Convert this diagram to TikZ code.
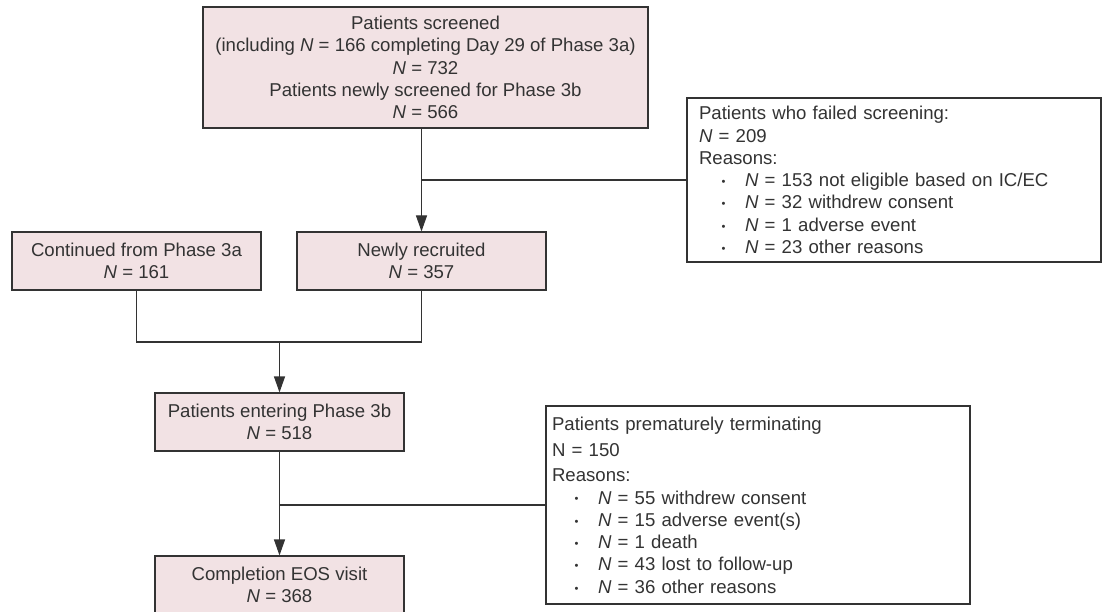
\documentclass[tikz,border=0pt]{standalone}
\usepackage{fontspec}
\setmainfont{Liberation Sans}
\usetikzlibrary{arrows.meta}
\definecolor{boxfill}{RGB}{242,226,228}
\definecolor{ink}{RGB}{51,51,51}
\newcommand{\Nv}{\textit{N}}
\newcommand{\bitem}{\hspace*{24.5pt}\makebox[0pt]{\raisebox{1.2pt}{\scalebox{0.6}{•}}}\hspace*{21.5pt}}
\begin{document}
\begin{tikzpicture}[x=1pt,y=-1pt,
  every node/.style={font=\fontsize{18.6}{22.3}\selectfont, text=ink},
  pbox/.style={draw=ink, line width=1.1pt, fill=boxfill, align=center, inner sep=0pt, minimum width=249pt, minimum height=58pt},
  wbox/.style={draw=ink, line width=1.1pt, fill=white, align=left, inner ysep=0pt},
  conn/.style={draw=ink, line width=1.1pt},
  arr/.style={conn, -{Triangle[length=16pt,width=11pt]}}]
\useasboundingbox (0,0) rectangle (1102,612);

\node[pbox, minimum width=445pt, minimum height=121pt] (top) at (425.5,67.5)
  {Patients screened\\(including \Nv{} = 166 completing Day 29 of Phase 3a)\\\Nv{} = 732\\Patients newly screened for Phase 3b\\\Nv{} = 566};

\node[wbox, text width=390pt, inner xsep=12pt, minimum height=164pt] (fail) at (894,180)
  {Patients who failed screening:\\
   \Nv{} = 209\\
   Reasons:\\
   \bitem\Nv{} = 153 not eligible based on IC/EC\\
   \bitem\Nv{} = 32 withdrew consent\\
   \bitem\Nv{} = 1 adverse event\\
   \bitem\Nv{} = 23 other reasons};

\node[pbox] (cont) at (136.5,261) {Continued from Phase 3a\\\Nv{} = 161};
\node[pbox] (newly) at (421.5,261) {Newly recruited\\\Nv{} = 357};

\node[pbox] (enter) at (279.5,422) {Patients entering Phase 3b\\\Nv{} = 518};
\node[pbox] (comp) at (279.5,585) {Completion EOS visit\\\Nv{} = 368};

\node[wbox, text width=412pt, inner xsep=6pt, minimum height=198pt] (term) at (758,505)
  {Patients prematurely terminating\\[3.7pt]
   N = 150\\[3.4pt]
   Reasons:\\
   \bitem\Nv{} = 55 withdrew consent\\
   \bitem\Nv{} = 15 adverse event(s)\\
   \bitem\Nv{} = 1 death\\
   \bitem\Nv{} = 43 lost to follow-up\\
   \bitem\Nv{} = 36 other reasons};

% connectors
\draw[arr] (top.south -| newly.north) -- (newly.north);
\draw[conn] (newly.north |- fail.west) -- (fail.west);

\coordinate (m) at (279.5,342);
\draw[conn] (cont.south) |- (newly.south |- m) -- (newly.south);
\draw[arr] (m) -- (enter.north);

\draw[arr] (enter.south) -- (comp.north);
\draw[conn] (enter.south |- term.west) -- (term.west);
\end{tikzpicture}
\end{document}
